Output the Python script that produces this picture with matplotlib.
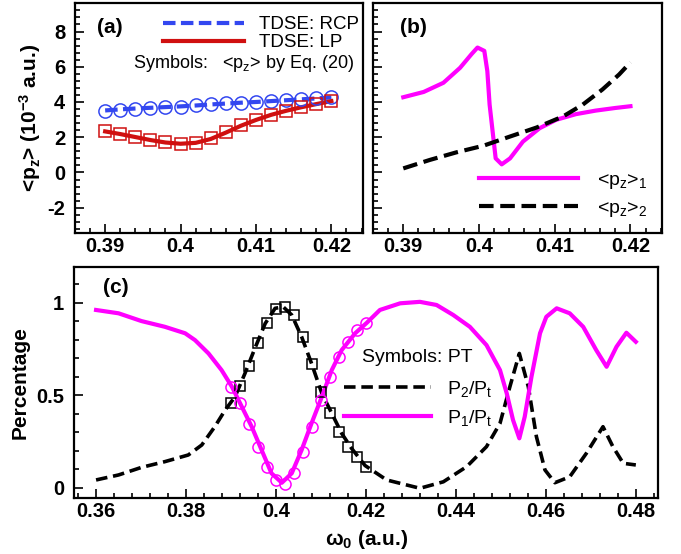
import matplotlib

matplotlib.use("Agg")
import matplotlib.pyplot as plt
from matplotlib.ticker import MultipleLocator, FormatStrFormatter

plt.rcParams["font.family"] = ["Liberation Sans", "DejaVu Sans"]
plt.rcParams["mathtext.fontset"] = "custom"
plt.rcParams["mathtext.rm"] = "Liberation Sans"
plt.rcParams["mathtext.default"] = "regular"

# -- panel (a): <p_z> vs omega0 ------------------------------------------
w_a = [0.390, 0.392, 0.394, 0.396, 0.398, 0.400, 0.402, 0.404,
       0.406, 0.408, 0.410, 0.412, 0.414, 0.416, 0.418, 0.420]
rcp_tdse = [3.52, 3.58, 3.63, 3.67, 3.71, 3.75, 3.80, 3.86,
            3.91, 3.96, 4.00, 4.05, 4.10, 4.15, 4.20, 4.26]
lp_tdse = [2.33, 2.18, 2.01, 1.84, 1.70, 1.63, 1.68, 1.90,
           2.26, 2.65, 2.98, 3.27, 3.50, 3.70, 3.88, 4.05]
rcp_eq = [3.50, 3.56, 3.62, 3.66, 3.70, 3.73, 3.81, 3.87,
          3.92, 3.96, 4.00, 4.06, 4.10, 4.15, 4.21, 4.29]
lp_eq = [2.36, 2.19, 2.04, 1.85, 1.71, 1.64, 1.70, 1.94,
         2.29, 2.67, 2.99, 3.28, 3.50, 3.70, 3.89, 4.04]

# -- panel (b): the two contributions ---------------------------------------
w_b1 = [0.3900, 0.3927, 0.3953, 0.3975, 0.3990, 0.3998, 0.4007, 0.4011,
        0.4014, 0.4019, 0.4022, 0.4030, 0.4041, 0.4058, 0.4080, 0.4102,
        0.4128, 0.4154, 0.4180, 0.4200]
pz1 = [4.27, 4.57, 5.09, 5.94, 6.71, 7.09, 6.90, 5.75,
       3.85, 1.94, 0.80, 0.46, 0.80, 1.75, 2.51, 2.99,
       3.31, 3.51, 3.66, 3.76]
w_b2 = [0.3900, 0.3935, 0.3970, 0.4006, 0.4041, 0.4076, 0.4111,
        0.4137, 0.4163, 0.4185, 0.4200]
pz2 = [0.23, 0.71, 1.14, 1.52, 2.04, 2.55, 3.18, 3.85, 4.71, 5.56, 6.25]

# -- panel (c): populations ---------------------------------------------------
w_c1 = [0.3600, 0.3650, 0.3701, 0.3753, 0.3798, 0.3820, 0.3850, 0.3879,
        0.3902, 0.3924, 0.3946, 0.3968, 0.3990, 0.4013, 0.4035, 0.4057,
        0.4079, 0.4102, 0.4124, 0.4146, 0.4176, 0.4202, 0.4231, 0.4276,
        0.4320, 0.4357, 0.4394, 0.4431, 0.4468, 0.4498, 0.4513, 0.4527,
        0.4541, 0.4553, 0.4568, 0.4587, 0.4601, 0.4624, 0.4653, 0.4683,
        0.4712, 0.4735, 0.4757, 0.4779, 0.4800]
p1 = [0.961, 0.943, 0.901, 0.870, 0.835, 0.798, 0.726, 0.636,
      0.546, 0.438, 0.330, 0.204, 0.078, 0.027, 0.078, 0.204,
      0.348, 0.492, 0.636, 0.744, 0.835, 0.892, 0.961, 0.997,
      1.005, 0.988, 0.934, 0.870, 0.771, 0.636, 0.510, 0.366,
      0.267, 0.384, 0.600, 0.835, 0.924, 0.970, 0.943, 0.870,
      0.744, 0.654, 0.762, 0.838, 0.789]
w_c2 = [0.3600, 0.3650, 0.3701, 0.3753, 0.3805, 0.3835, 0.3864, 0.3887,
        0.3909, 0.3931, 0.3953, 0.3976, 0.3998, 0.4016, 0.4035, 0.4057,
        0.4079, 0.4102, 0.4124, 0.4146, 0.4168, 0.4198, 0.4246, 0.4320,
        0.4372, 0.4424, 0.4468, 0.4498, 0.4520, 0.4541, 0.4561, 0.4579,
        0.4598, 0.4620, 0.4653, 0.4690, 0.4727, 0.4749, 0.4772, 0.4800]
p2 = [0.042, 0.069, 0.110, 0.141, 0.177, 0.231, 0.330, 0.420,
      0.492, 0.618, 0.753, 0.888, 0.970, 0.978, 0.934, 0.816,
      0.672, 0.510, 0.402, 0.294, 0.213, 0.120, 0.042, -0.003,
      0.032, 0.114, 0.222, 0.348, 0.546, 0.726, 0.546, 0.276,
      0.096, 0.027, 0.059, 0.186, 0.330, 0.222, 0.132, 0.123]
w_pt = w_a
p2_pt = [0.456, 0.550, 0.658, 0.780, 0.889, 0.964, 0.978, 0.934,
         0.813, 0.669, 0.519, 0.402, 0.303, 0.222, 0.168, 0.114]
p1_pt = [0.546, 0.456, 0.343, 0.222, 0.114, 0.042, 0.020, 0.081,
         0.195, 0.330, 0.474, 0.600, 0.705, 0.789, 0.852, 0.892]

BLUE = "#3347f0"
RED = "#d01010"
MAGENTA = "#ff00ff"
TICK_FS = 14.5
TEXT_FS = 14
LABEL_FS = 15


def style_axis(ax, xmaj, xmin, ymaj, ymin, yfmt="%g"):
    ax.xaxis.set_major_locator(MultipleLocator(xmaj))
    ax.xaxis.set_minor_locator(MultipleLocator(xmin))
    ax.yaxis.set_major_locator(MultipleLocator(ymaj))
    ax.yaxis.set_minor_locator(MultipleLocator(ymin))
    ax.xaxis.set_major_formatter(FormatStrFormatter("%g"))
    ax.yaxis.set_major_formatter(FormatStrFormatter(yfmt))
    ax.tick_params(which="both", direction="in", top=False, right=False, width=1.2)
    ax.tick_params(which="major", length=6.5)
    ax.tick_params(which="minor", length=3.5)
    ax.tick_params(axis="x", pad=3)
    ax.tick_params(axis="y", pad=7)
    for lab in ax.get_xticklabels() + ax.get_yticklabels():
        lab.set_fontweight("bold")
        lab.set_fontsize(TICK_FS)
    for sp in ax.spines.values():
        sp.set_linewidth(1.6)


fig = plt.figure(figsize=(6.81, 5.54), dpi=100)
ax_a = fig.add_axes([0.1101, 0.579, 0.423, 0.415])
ax_b = fig.add_axes([0.5477, 0.579, 0.4248, 0.415])
ax_c = fig.add_axes([0.1087, 0.1016, 0.858, 0.417])

# (a)
ax_a.plot(w_a, rcp_tdse, color=BLUE, lw=3, dashes=(3, 1.3), label="TDSE: RCP")
ax_a.plot(w_a, lp_tdse, color=RED, lw=3, label="TDSE: LP")
ax_a.plot(w_a, rcp_eq, ls="none", marker="o", ms=9.5, mfc="none", mec=BLUE, mew=1.1)
ax_a.plot(w_a, lp_eq, ls="none", marker="s", ms=8.5, mfc="none", mec=RED, mew=1.1)
ax_a.set_xlim(0.386, 0.4242)
ax_a.set_ylim(-3.45, 9.6)
style_axis(ax_a, 0.01, 0.002, 2, 0.4)
ax_a.set_ylabel(r"<p$_z$> (10$^{-3}$ a.u.)", fontsize=LABEL_FS, fontweight="bold",
                labelpad=3)
ax_a.text(0.076, 0.897, "(a)", transform=ax_a.transAxes, fontsize=LABEL_FS,
          fontweight="bold", va="center")
ax_a.text(0.201, 0.740, r"Symbols:   <p$_z$> by Eq. (20)", transform=ax_a.transAxes,
          fontsize=13, va="center")
ax_a.legend(loc="upper left", bbox_to_anchor=(0.306, 0.945), frameon=False,
            fontsize=13.5, handlelength=4.3, handletextpad=0.8,
            labelspacing=0.05, borderpad=0, borderaxespad=0)

# (b)
ax_b.plot(w_b1, pz1, color=MAGENTA, lw=3, label=r"<p$_z$>$_1$")
ax_b.plot(w_b2, pz2, color="black", lw=3, dashes=(3.5, 1.6), label=r"<p$_z$>$_2$")
ax_b.set_xlim(0.386, 0.4242)
ax_b.set_ylim(-3.45, 9.6)
style_axis(ax_b, 0.01, 0.002, 2, 0.4)
ax_b.set_yticklabels([])
ax_b.text(0.093, 0.897, "(b)", transform=ax_b.transAxes, fontsize=LABEL_FS,
          fontweight="bold", va="center")
ax_b.legend(loc="upper left", bbox_to_anchor=(0.366, 0.27), frameon=False,
            fontsize=TEXT_FS, handlelength=5.1, handletextpad=0.95,
            labelspacing=0.42, borderpad=0, borderaxespad=0)

# (c)
ax_c.plot(w_c2, p2, color="black", lw=2.6, dashes=(3.2, 1.6), label=r"P$_2$/P$_t$")
ax_c.plot(w_c1, p1, color=MAGENTA, lw=3, label=r"P$_1$/P$_t$")
ax_c.plot(w_pt, p2_pt, ls="none", marker="s", ms=7, mfc="none", mec="black", mew=1.1)
ax_c.plot(w_pt, p1_pt, ls="none", marker="o", ms=8, mfc="none", mec=MAGENTA, mew=1.1)
ax_c.set_xlim(0.3551, 0.485)
ax_c.set_ylim(-0.054, 1.195)
style_axis(ax_c, 0.02, 0.004, 0.5, 0.1)
ax_c.set_ylabel("Percentage", fontsize=LABEL_FS, fontweight="bold", labelpad=5)
ax_c.set_xlabel(r"$\omega_0$ (a.u.)", fontsize=LABEL_FS, fontweight="bold", labelpad=5)
ax_c.text(0.050, 0.912, "(c)", transform=ax_c.transAxes, fontsize=LABEL_FS,
          fontweight="bold", va="center")
ax_c.text(0.493, 0.605, "Symbols: PT", transform=ax_c.transAxes,
          fontsize=TEXT_FS, va="center")
ax_c.legend(loc="upper left", bbox_to_anchor=(0.462, 0.513), frameon=False,
            fontsize=TEXT_FS, handlelength=4.5, handletextpad=0.8,
            labelspacing=0.45, borderpad=0, borderaxespad=0)

fig.savefig("out.png", dpi=100)
plt.close(fig)
